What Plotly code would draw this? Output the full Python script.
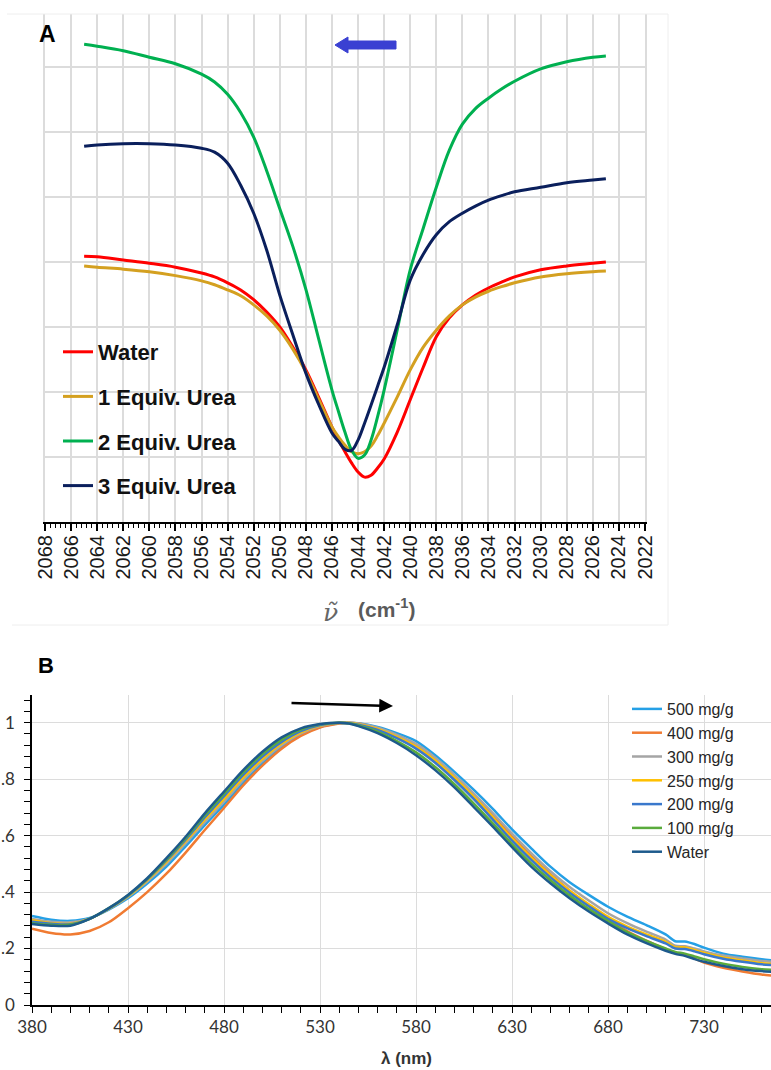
import plotly.graph_objects as go

W, H = 771, 1070
def px(x): return x / W
def py(y): return 1 - y / H

# ---------------- Panel A data ----------------
wn = [2065, 2064, 2062, 2060, 2058, 2056, 2055, 2054, 2053, 2052, 2051, 2050, 2049, 2048,
      2047, 2046, 2045.5, 2045, 2044.5, 2044, 2043.5, 2043, 2042.5, 2042, 2041, 2040, 2039,
      2038, 2037, 2036, 2035, 2034, 2033, 2032, 2030, 2028, 2026, 2025]
a_water = [4.09, 4.08, 4.03, 3.98, 3.92, 3.83, 3.77, 3.68, 3.57, 3.42, 3.23, 3.00, 2.69, 2.34,
           1.91, 1.46, 1.26, 1.08, 0.91, 0.77, 0.69, 0.72, 0.83, 0.97, 1.38, 1.88, 2.38,
           2.85, 3.14, 3.34, 3.49, 3.60, 3.69, 3.77, 3.88, 3.94, 3.98, 4.00]
a_urea1 = [3.94, 3.92, 3.89, 3.85, 3.79, 3.71, 3.65, 3.57, 3.48, 3.34, 3.17, 2.95, 2.66, 2.31,
           1.88, 1.46, 1.31, 1.18, 1.08, 1.05, 1.08, 1.17, 1.33, 1.52, 1.92, 2.34, 2.69,
           2.95, 3.17, 3.34, 3.46, 3.55, 3.62, 3.68, 3.77, 3.82, 3.85, 3.86]
a_urea2 = [7.35, 7.32, 7.25, 7.15, 7.05, 6.89, 6.77, 6.58, 6.30, 5.92, 5.40, 4.82, 4.24, 3.58,
           2.80, 2.03, 1.70, 1.38, 1.11, 0.98, 1.03, 1.26, 1.62, 2.03, 2.95, 3.88, 4.52,
           5.15, 5.72, 6.12, 6.36, 6.52, 6.66, 6.78, 6.97, 7.08, 7.15, 7.17]
a_urea3 = [5.78, 5.80, 5.82, 5.82, 5.80, 5.75, 5.69, 5.52, 5.18, 4.75, 4.18, 3.49, 2.88, 2.29,
           1.80, 1.37, 1.24, 1.12, 1.10, 1.26, 1.52, 1.80, 2.09, 2.38, 3.03, 3.72, 4.12,
           4.42, 4.62, 4.75, 4.86, 4.95, 5.02, 5.08, 5.15, 5.22, 5.26, 5.28]
a_names = ["Water", "1 Equiv. Urea", "2 Equiv. Urea", "3 Equiv. Urea"]
a_colors = ["#ff0000", "#d4a020", "#00b050", "#0a1f5c"]
a_ticks = list(range(2068, 2021, -2))

# ---------------- Panel B data ----------------
lam = [380, 390, 400, 410, 420, 430, 440, 450, 460, 470, 480, 490, 500, 510, 520, 530, 540,
       545, 550, 560, 570, 580, 590, 600, 610, 620, 630, 640, 650, 660, 670, 680, 690, 700,
       710, 715, 720, 725, 730, 740, 750, 760, 766]
b_500 = [0.315, 0.302, 0.298, 0.308, 0.338, 0.378, 0.430, 0.490, 0.562, 0.637, 0.710, 0.787,
         0.855, 0.913, 0.957, 0.985, 0.998, 1.000, 0.998, 0.985, 0.963, 0.935, 0.885, 0.826,
         0.763, 0.695, 0.622, 0.555, 0.490, 0.435, 0.390, 0.348, 0.313, 0.283, 0.250, 0.226,
         0.225, 0.216, 0.203, 0.182, 0.171, 0.162, 0.158]
b_400 = [0.270, 0.255, 0.250, 0.262, 0.293, 0.343, 0.400, 0.465, 0.540, 0.620, 0.698, 0.778,
         0.848, 0.908, 0.953, 0.983, 0.997, 1.000, 0.997, 0.980, 0.955, 0.920, 0.870, 0.810,
         0.745, 0.675, 0.598, 0.527, 0.463, 0.405, 0.353, 0.305, 0.262, 0.228, 0.198, 0.185,
         0.177, 0.165, 0.150, 0.132, 0.119, 0.108, 0.104]
b_300 = [0.305, 0.295, 0.293, 0.306, 0.340, 0.383, 0.437, 0.500, 0.572, 0.648, 0.720, 0.797,
         0.865, 0.920, 0.962, 0.988, 0.999, 1.000, 0.997, 0.982, 0.957, 0.925, 0.876, 0.815,
         0.750, 0.680, 0.607, 0.538, 0.474, 0.418, 0.370, 0.325, 0.290, 0.260, 0.232, 0.210,
         0.208, 0.200, 0.190, 0.175, 0.165, 0.156, 0.153]
b_250 = [0.300, 0.290, 0.288, 0.305, 0.341, 0.385, 0.442, 0.507, 0.580, 0.657, 0.730, 0.806,
         0.872, 0.926, 0.966, 0.990, 1.000, 0.999, 0.995, 0.978, 0.950, 0.915, 0.866, 0.805,
         0.738, 0.665, 0.590, 0.522, 0.460, 0.405, 0.357, 0.312, 0.278, 0.250, 0.224, 0.205,
         0.204, 0.195, 0.185, 0.168, 0.158, 0.148, 0.145]
b_200 = [0.295, 0.288, 0.286, 0.305, 0.342, 0.387, 0.445, 0.512, 0.586, 0.665, 0.740, 0.815,
         0.880, 0.932, 0.970, 0.992, 1.000, 0.998, 0.993, 0.974, 0.945, 0.908, 0.858, 0.797,
         0.730, 0.657, 0.582, 0.514, 0.452, 0.398, 0.350, 0.305, 0.272, 0.244, 0.218, 0.200,
         0.198, 0.190, 0.180, 0.164, 0.153, 0.144, 0.141]
b_100 = [0.290, 0.284, 0.284, 0.305, 0.343, 0.389, 0.447, 0.516, 0.591, 0.672, 0.748, 0.824,
         0.889, 0.940, 0.976, 0.994, 1.000, 0.998, 0.990, 0.968, 0.935, 0.895, 0.843, 0.782,
         0.714, 0.643, 0.570, 0.502, 0.442, 0.388, 0.340, 0.297, 0.258, 0.227, 0.200, 0.188,
         0.182, 0.172, 0.162, 0.146, 0.135, 0.127, 0.124]
b_water = [0.287, 0.281, 0.281, 0.305, 0.343, 0.390, 0.449, 0.520, 0.596, 0.679, 0.756, 0.832,
           0.897, 0.948, 0.980, 0.995, 1.000, 0.997, 0.988, 0.963, 0.928, 0.885, 0.832, 0.771,
           0.702, 0.632, 0.559, 0.490, 0.431, 0.378, 0.331, 0.289, 0.250, 0.219, 0.192, 0.181,
           0.174, 0.163, 0.153, 0.138, 0.127, 0.120, 0.117]
b_names = ["500 mg/g", "400 mg/g", "300 mg/g", "250 mg/g", "200 mg/g", "100 mg/g", "Water"]
b_colors = ["#25a0e6", "#f07b32", "#a5a5a5", "#ffc000", "#3a78cc", "#5aab3c", "#1d5a8c"]
b_yticks = [0, 0.2, 0.4, 0.6, 0.8, 1.0]
b_yticktext = ["0", ".2", ".4", ".6", ".8", "1"]
b_xticks = [380, 430, 480, 530, 580, 630, 680, 730]

fig = go.Figure()

for i, (nm, col, ys) in enumerate(zip(a_names, a_colors, [a_water, a_urea1, a_urea2, a_urea3])):
    fig.add_trace(go.Scatter(x=wn, y=ys, name=nm, mode="lines",
                             line=dict(color=col, width=3, shape="spline", smoothing=1.0),
                             xaxis="x", yaxis="y", legend="legend", legendgroup="a%d" % i))

for nm, col, ys in zip(b_names, b_colors, [b_500, b_400, b_300, b_250, b_200, b_100, b_water]):
    fig.add_trace(go.Scatter(x=lam, y=ys, name=nm, mode="lines",
                             line=dict(color=col, width=2.5, shape="spline", smoothing=0.8),
                             xaxis="x2", yaxis="y2", legend="legend2"))

grid = "#dcdcdc"
fig.update_layout(
    width=W, height=H, margin=dict(l=0, r=0, t=0, b=0, autoexpand=False),
    paper_bgcolor="white", plot_bgcolor="white",
    font=dict(family="Arial", color="#222"),
    xaxis=dict(domain=[px(45), px(645)], range=[2068, 2022], anchor="y", automargin=False,
               tickmode="array", tickvals=a_ticks, ticktext=[str(t) for t in a_ticks],
               tickangle=-90, tickfont=dict(size=20, color="#1a1a1a", family="Arial"),
               showgrid=True, gridcolor=grid, gridwidth=1.5,
               showline=True, linecolor="black", linewidth=2,
               ticks="outside", ticklen=7, tickwidth=1.5, tickcolor="black",
               ticklabelstandoff=-4,
               minor=dict(dtick=0.4, tick0=2068, ticks="outside", ticklen=4, tickwidth=1,
                          tickcolor="black", showgrid=False),
               zeroline=False),
    yaxis=dict(domain=[py(522), py(14)], range=[0, 7.815], anchor="x", automargin=False,
               dtick=1, tick0=0, showticklabels=False, ticks="",
               showgrid=True, gridcolor=grid, gridwidth=1.5,
               showline=True, linecolor=grid, linewidth=1.5, mirror=True,
               zeroline=False),
    xaxis2=dict(domain=[px(32), 1.0], range=[380, 380 + 739 / 1.92], anchor="y2", automargin=False,
                tickmode="array", tickvals=b_xticks, ticktext=[str(t) for t in b_xticks],
                tickfont=dict(size=17, color="#333", family="Lato"),
                showgrid=True, gridcolor=grid, gridwidth=1.2,
                showline=True, linecolor="black", linewidth=1.5,
                ticks="outside", ticklen=6, tickwidth=1.2, tickcolor="black",
                minor=dict(dtick=10, tick0=380, ticks="outside", ticklen=6, tickwidth=1.2,
                           tickcolor="black", showgrid=False),
                zeroline=False),
    yaxis2=dict(domain=[py(1005), py(695)], range=[0, 310 / 282.3], anchor="x2", automargin=False,
                tickmode="array", tickvals=b_yticks, ticktext=b_yticktext,
                tickfont=dict(size=17, color="#333", family="Lato"),
                showgrid=True, gridcolor=grid, gridwidth=1.2,
                showline=True, linecolor="black", linewidth=1.5,
                ticks="outside", ticklen=6, tickwidth=1.2, tickcolor="black",
                ticklabelstandoff=6,
                minor=dict(dtick=0.04, tick0=0, ticks="outside", ticklen=6, tickwidth=1.2,
                           tickcolor="black", showgrid=False),
                zeroline=False),
    legend=dict(x=px(58), y=py(331), xanchor="left", yanchor="top",
                bgcolor="rgba(0,0,0,0)", traceorder="grouped", tracegroupgap=13,
                font=dict(size=22, family="Arial", color="#111", weight="bold")),
    legend2=dict(x=px(627), y=py(692), xanchor="left", yanchor="top",
                 bgcolor="rgba(0,0,0,0)", traceorder="normal",
                 font=dict(size=16, family="Arial", color="#262626")),
    showlegend=True,
)

shapes = []
# legend backgrounds (cover gridlines)
shapes.append(dict(type="rect", xref="paper", yref="paper", layer="between",
                   x0=px(46), x1=px(253), y0=py(510), y1=py(327),
                   fillcolor="white", line=dict(width=0)))
shapes.append(dict(type="rect", xref="paper", yref="paper", layer="between",
                   x0=px(595), x1=1.0, y0=py(861), y1=py(697),
                   fillcolor="white", line=dict(width=0)))
# faint panel-A frame
for (x0, y0, x1, y1) in [(7, 14, 668, 14), (668, 14, 668, 625), (12, 625, 668, 625)]:
    shapes.append(dict(type="line", xref="paper", yref="paper",
                       x0=px(x0), y0=py(y0), x1=px(x1), y1=py(y1),
                       line=dict(color="#eeeeee", width=1)))
# blue arrow in panel A
pts = [(335, 45), (348, 37), (348, 41), (396, 41), (396, 49), (348, 49), (348, 53)]
path = "M " + " L ".join("%.5f,%.5f" % (px(a), py(b)) for a, b in pts) + " Z"
shapes.append(dict(type="path", xref="paper", yref="paper", path=path,
                   fillcolor="#3a40d2", line=dict(color="#3a40d2", width=1)))
fig.update_layout(shapes=shapes)

ann = [
    dict(x=px(47), y=py(34), text="<b>A</b>", font=dict(size=23, family="Arial", color="black")),
    dict(x=px(46), y=py(665), text="<b>B</b>", font=dict(size=22, family="Arial", color="black")),
    dict(x=px(330), y=py(612), text="<i>ν̃</i>", font=dict(size=25, family="DejaVu Serif", color="#666")),
    dict(x=px(386), y=py(608), text="<b>(cm<sup>-1</sup>)</b>", font=dict(size=21, family="Arial", color="#5a5a5a")),
    dict(x=px(406), y=py(1058), text="<b>λ (nm)</b>", font=dict(size=17, family="Arial", color="#333")),
]
for a in ann:
    a.update(xref="paper", yref="paper", showarrow=False, xanchor="center", yanchor="middle")
ann.append(dict(x=px(393), y=py(706), xref="paper", yref="paper", ax=-103, ay=-3,
                text="", showarrow=True, arrowhead=2, arrowsize=1.1, arrowwidth=2.5,
                arrowcolor="black"))
fig.update_layout(annotations=ann)

fig.write_html("out.html", config={"displayModeBar": False},
               post_script="document.body.style.margin='0';document.body.style.padding='0';document.body.style.overflow='hidden';")
